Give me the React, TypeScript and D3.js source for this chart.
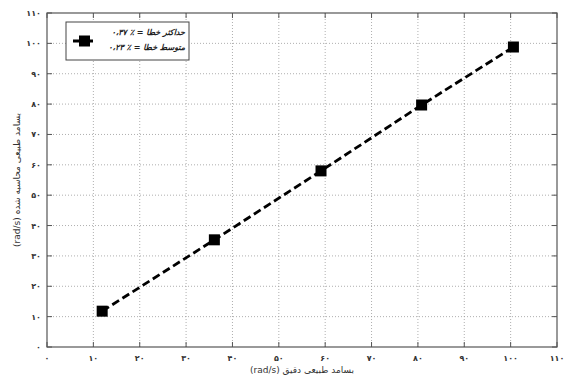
import { useEffect, useRef } from "react";
import * as d3 from "d3";

// exact vs computed natural frequency (rad/s)
const exactFreq = [11.9, 36.1, 59.1, 80.8, 100.6];
const computedFreq = [11.8, 35.3, 58.0, 79.7, 98.8];
const tickValues = [0, 10, 20, 30, 40, 50, 60, 70, 80, 90, 100, 110];
const legendLines = ["۰،۳۷ ٪ = حداکثر خطا", "۰،۲۳ ٪ = متوسط خطا"];
const xTitle = "بسامد طبیعی دقیق (rad/s)";
const yTitle = "بسامد طبیعی محاسبه شده (rad/s)";

const toFa = (n: number) =>
  String(n).replace(/\d/g, (c) => "۰۱۲۳۴۵۶۷۸۹"[+c]);

export default function App() {
  const svgRef = useRef<SVGSVGElement>(null);

  useEffect(() => {
    if (!svgRef.current) return;
    const svg = d3.select(svgRef.current);
    svg.selectAll("*").remove();

    const W = 565;
    const H = 378;
    const m = { left: 47, right: 8, top: 13, bottom: 31 };
    const x = d3.scaleLinear().domain([0, 110]).range([m.left, W - m.right]);
    const y = d3.scaleLinear().domain([0, 110]).range([H - m.bottom, m.top]);
    const font = "'DejaVu Sans', sans-serif";

    svg.append("rect").attr("width", W).attr("height", H).attr("fill", "#fff");

    // grid
    const grid = svg.append("g").attr("stroke", "#9a9a9a").attr("stroke-width", 0.8).attr("stroke-dasharray", "1,2");
    tickValues.slice(1, -1).forEach((t) => {
      grid.append("line").attr("x1", x(t)).attr("x2", x(t)).attr("y1", y(0)).attr("y2", y(110));
      grid.append("line").attr("x1", x(0)).attr("x2", x(110)).attr("y1", y(t)).attr("y2", y(t));
    });

    // box
    svg
      .append("rect")
      .attr("x", x(0))
      .attr("y", y(110))
      .attr("width", x(110) - x(0))
      .attr("height", y(0) - y(110))
      .attr("fill", "none")
      .attr("stroke", "#555")
      .attr("stroke-width", 1.2);

    // inside ticks
    const tk = svg.append("g").attr("stroke", "#555").attr("stroke-width", 1);
    tickValues.forEach((t) => {
      tk.append("line").attr("x1", x(t)).attr("x2", x(t)).attr("y1", y(0)).attr("y2", y(0) - 5);
      tk.append("line").attr("x1", x(t)).attr("x2", x(t)).attr("y1", y(110)).attr("y2", y(110) + 5);
      tk.append("line").attr("x1", x(0)).attr("x2", x(0) + 5).attr("y1", y(t)).attr("y2", y(t));
      tk.append("line").attr("x1", x(110)).attr("x2", x(110) - 5).attr("y1", y(t)).attr("y2", y(t));
    });

    // tick labels
    const lbl = svg.append("g").attr("font-family", font).attr("font-size", 8).attr("font-weight", "bold").attr("fill", "#333");
    tickValues.forEach((t) => {
      lbl.append("text").attr("x", x(t)).attr("y", y(0) + 14).attr("text-anchor", "middle").text(toFa(t));
      lbl.append("text").attr("x", x(0) - 6).attr("y", y(t) + 3).attr("text-anchor", "end").text(toFa(t));
    });

    // axis titles
    svg
      .append("text")
      .attr("x", (x(0) + x(110)) / 2)
      .attr("y", H - 5)
      .attr("text-anchor", "middle")
      .attr("font-family", font)
      .attr("font-size", 9)
      .attr("fill", "#333")
      .attr("direction", "rtl")
      .text(xTitle);
    svg
      .append("text")
      .attr("transform", `translate(20,${(y(0) + y(110)) / 2}) rotate(-90)`)
      .attr("text-anchor", "middle")
      .attr("font-family", font)
      .attr("font-size", 9)
      .attr("fill", "#333")
      .attr("direction", "rtl")
      .text(yTitle);

    // series
    const pts = exactFreq.map((v, i) => [v, computedFreq[i]] as [number, number]);
    const line = d3.line<[number, number]>().x((d) => x(d[0])).y((d) => y(d[1]));
    svg
      .append("path")
      .attr("d", line(pts))
      .attr("fill", "none")
      .attr("stroke", "#000")
      .attr("stroke-width", 2.8)
      .attr("stroke-dasharray", "8,4");
    svg
      .selectAll("rect.mk")
      .data(pts)
      .join("rect")
      .attr("class", "mk")
      .attr("x", (d) => x(d[0]) - 5.5)
      .attr("y", (d) => y(d[1]) - 5.5)
      .attr("width", 11)
      .attr("height", 11)
      .attr("fill", "#000");

    // legend
    const lg = svg.append("g");
    lg.append("rect")
      .attr("x", 66)
      .attr("y", 22)
      .attr("width", 123)
      .attr("height", 38)
      .attr("fill", "#fff")
      .attr("stroke", "#444")
      .attr("stroke-width", 1);
    lg.append("line")
      .attr("x1", 73)
      .attr("x2", 97)
      .attr("y1", 41)
      .attr("y2", 41)
      .attr("stroke", "#000")
      .attr("stroke-width", 2.8)
      .attr("stroke-dasharray", "8,4");
    lg.append("rect").attr("x", 79).attr("y", 35.5).attr("width", 11).attr("height", 11).attr("fill", "#000");
    legendLines.forEach((s, i) => {
      lg.append("text")
        .attr("x", 185)
        .attr("y", 35 + i * 15)
        .attr("text-anchor", "end")
        .attr("font-family", font)
        .attr("font-size", 8)
        .attr("font-style", "italic")
        .attr("font-weight", "bold")
        .attr("fill", "#222")
        .text(s);
    });
  }, []);

  return (
    <div style={{ position: "absolute", left: 0, top: 0 }}>
      <svg ref={svgRef} width={565} height={378} style={{ display: "block" }} />
    </div>
  );
}
